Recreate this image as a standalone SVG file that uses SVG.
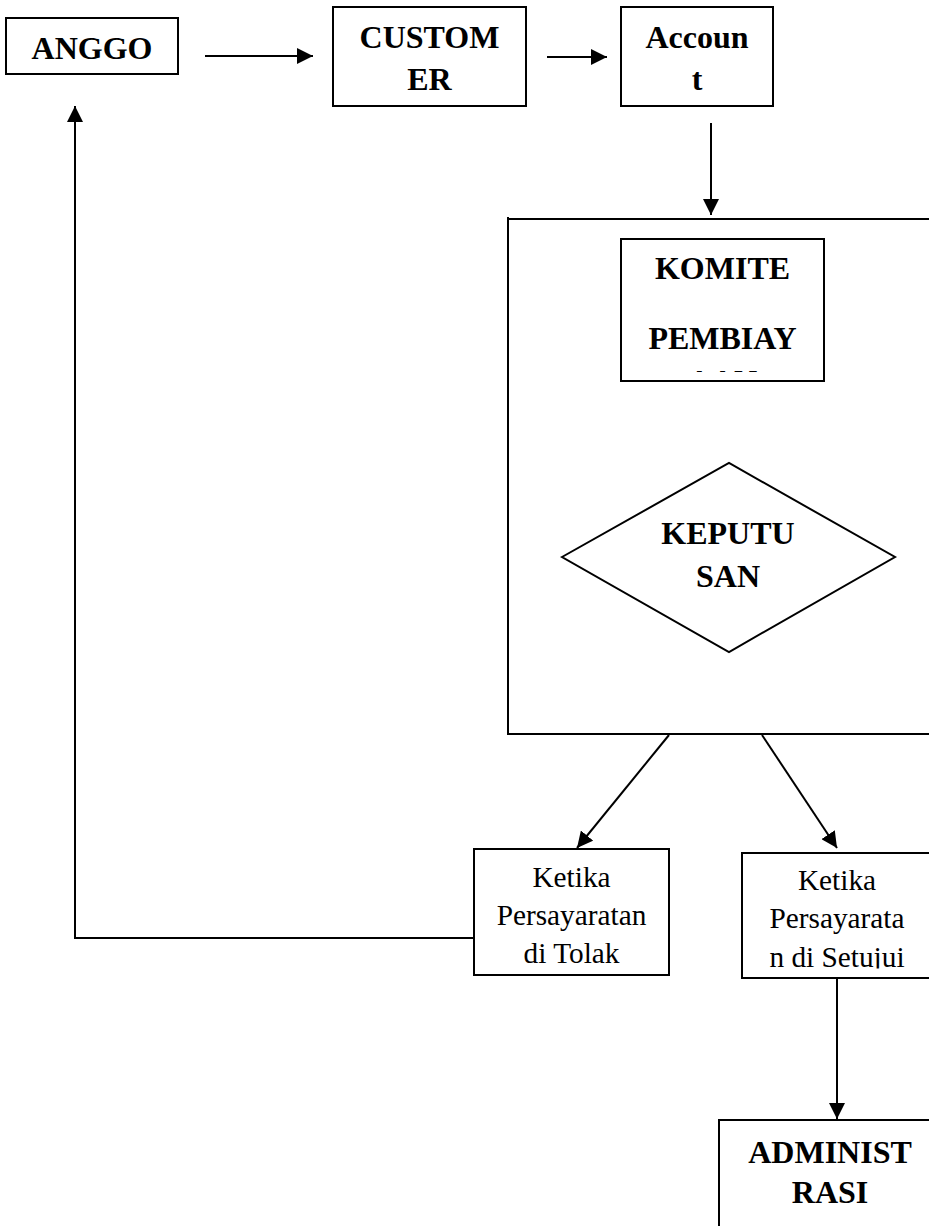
<svg xmlns="http://www.w3.org/2000/svg" width="929" height="1226" viewBox="0 0 929 1226">
  <style>
    .box { fill: #ffffff; stroke: #000000; stroke-width: 2; }
    .conn { fill: none; stroke: #000000; stroke-width: 2; }
    .b { font-family: "Liberation Serif", "Times New Roman", serif; font-weight: bold; font-size: 32px; fill: #000000; text-anchor: middle; }
    .r { font-family: "Liberation Serif", "Times New Roman", serif; font-size: 29.3px; fill: #000000; text-anchor: middle; }
  </style>
  <defs>
    <marker id="arrow" viewBox="0 0 16 16" refX="16" refY="8" markerWidth="16" markerHeight="16" markerUnits="userSpaceOnUse" orient="auto">
      <path d="M0,0 L16,8 L0,16 z" fill="#000000"/>
    </marker>
    <clipPath id="clipKomite">
      <rect x="621" y="239" width="203" height="133"/>
    </clipPath>
    <clipPath id="clipSetuju">
      <rect x="742" y="853" width="200" height="115.5"/>
    </clipPath>
  </defs>
  <rect width="929" height="1226" fill="#ffffff"/>

  <g id="komite-container">
    <path class="box" d="M508,217 L508,734 L935,734 M508,219 L935,219"/>
  </g>

  <g id="anggo">
    <rect class="box" x="6" y="18" width="172" height="56"/>
    <text class="b" x="92" y="59">ANGGO</text>
  </g>

  <g id="customer">
    <rect class="box" x="333" y="7" width="193" height="99"/>
    <text class="b" x="429.5" y="48">CUSTOM</text>
    <text class="b" x="429.5" y="90">ER</text>
  </g>

  <g id="account">
    <rect class="box" x="621" y="7" width="152" height="99"/>
    <text class="b" x="697" y="48">Accoun</text>
    <text class="b" x="697" y="90">t</text>
  </g>

  <g id="komite-pembiayaan">
    <rect class="box" x="621" y="239" width="203" height="142"/>
    <g clip-path="url(#clipKomite)">
      <text class="b" x="722.5" y="279">KOMITE</text>
      <text class="b" x="722.5" y="349">PEMBIAY</text>
      <text class="b" x="722.5" y="392">AAN</text>
    </g>
  </g>

  <g id="keputusan">
    <polygon class="box" points="562,557 729,463 895,557 729,652"/>
    <text class="b" x="728" y="544">KEPUTU</text>
    <text class="b" x="728" y="587">SAN</text>
  </g>

  <g id="ditolak">
    <rect class="box" x="474" y="849" width="195" height="126"/>
    <text class="r" x="571.5" y="887">Ketika</text>
    <text class="r" x="571.5" y="925">Persayaratan</text>
    <text class="r" x="571.5" y="963">di Tolak</text>
  </g>

  <g id="disetujui">
    <rect class="box" x="742" y="853" width="200" height="125"/>
    <g clip-path="url(#clipSetuju)">
      <text class="r" x="837" y="890">Ketika</text>
      <text class="r" x="837" y="928">Persayarata</text>
      <text class="r" x="837" y="967">n di Setujui</text>
    </g>
  </g>

  <g id="administrasi">
    <rect class="box" x="719" y="1120" width="222" height="120"/>
    <text class="b" x="830" y="1163">ADMINIST</text>
    <text class="b" x="830" y="1203">RASI</text>
  </g>

  <g id="connectors">
    <line class="conn" x1="205" y1="56" x2="313" y2="56" marker-end="url(#arrow)"/>
    <line class="conn" x1="547" y1="57" x2="607" y2="57" marker-end="url(#arrow)"/>
    <line class="conn" x1="711" y1="123" x2="711" y2="215" marker-end="url(#arrow)"/>
    <line class="conn" x1="669" y1="735" x2="577" y2="848" marker-end="url(#arrow)"/>
    <line class="conn" x1="762" y1="735" x2="837" y2="848" marker-end="url(#arrow)"/>
    <line class="conn" x1="837" y1="978" x2="837" y2="1119" marker-end="url(#arrow)"/>
    <polyline class="conn" points="474,938 75,938 75,106" marker-end="url(#arrow)"/>
  </g>
</svg>
